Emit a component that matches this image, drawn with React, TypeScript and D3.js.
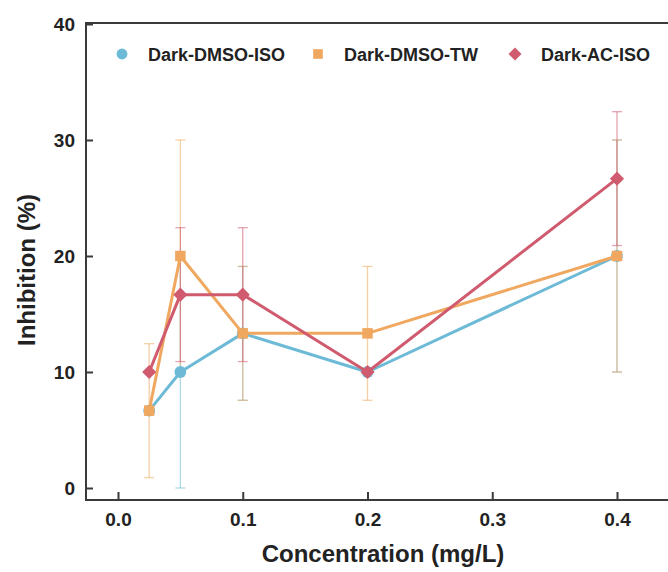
import React, { useRef, useEffect } from 'react';
import * as d3 from 'd3';

const concentrations = [0.025, 0.05, 0.1, 0.2, 0.4];
const seriesNames = ['Dark-DMSO-ISO', 'Dark-DMSO-TW', 'Dark-AC-ISO'];
const dmsoIso = [6.67, 10, 13.33, 10, 20];
const dmsoIsoErr = [0, 10, 5.77, 0, 10];
const dmsoTw = [6.67, 20, 13.33, 13.33, 20];
const dmsoTwErr = [5.77, 10, 5.77, 5.77, 10];
const acIso = [10, 16.67, 16.67, 10, 26.67];
const acIsoErr = [0, 5.77, 5.77, 0, 5.77];
const xTicks = [0, 0.1, 0.2, 0.3, 0.4];
const yTicks = [0, 10, 20, 30, 40];

const colors = ['#6dbad6', '#f0a75f', '#d05a6e'];

const App = () => {
  const ref = useRef<SVGSVGElement>(null);

  useEffect(() => {
    const svg = d3.select(ref.current);
    svg.selectAll('*').remove();

    const x = d3.scaleLinear().domain([0, 0.4]).range([118, 617]);
    const y = d3.scaleLinear().domain([0, 40]).range([488, 24]);
    const left = 86, bottom = 500, top = 23, right = 680;
    const font = 'Liberation Sans, Arial, sans-serif';

    const series = [
      { name: seriesNames[0], vals: dmsoIso, err: dmsoIsoErr, shape: d3.symbolCircle, size: 110, rot: 0 },
      { name: seriesNames[1], vals: dmsoTw, err: dmsoTwErr, shape: d3.symbolSquare, size: 110, rot: 0 },
      { name: seriesNames[2], vals: acIso, err: acIsoErr, shape: d3.symbolSquare, size: 100, rot: 45 },
    ];

    // error bars first
    series.forEach((s, si) => {
      const g = svg.append('g').attr('stroke', colors[si]).attr('stroke-opacity', 0.55).attr('stroke-width', 1.3);
      s.vals.forEach((v, i) => {
        if (!s.err[i]) return;
        const cx = x(concentrations[i]);
        const lo = y(Math.max(0, v - s.err[i]));
        const hi = y(v + s.err[i]);
        g.append('line').attr('x1', cx).attr('x2', cx).attr('y1', lo).attr('y2', hi);
        g.append('line').attr('x1', cx - 5).attr('x2', cx + 5).attr('y1', lo).attr('y2', lo);
        g.append('line').attr('x1', cx - 5).attr('x2', cx + 5).attr('y1', hi).attr('y2', hi);
      });
    });

    const line = d3.line<number>()
      .x((d, i) => x(concentrations[i]))
      .y(d => y(d));

    series.forEach((s, si) => {
      svg.append('path')
        .attr('d', line(s.vals))
        .attr('fill', 'none')
        .attr('stroke', colors[si])
        .attr('stroke-width', 3)
        .attr('stroke-linejoin', 'round');
      svg.append('g')
        .selectAll('path')
        .data(s.vals)
        .join('path')
        .attr('transform', (d, i) => `translate(${x(concentrations[i])},${y(d)}) rotate(${s.rot})`)
        .attr('d', d3.symbol().type(s.shape).size(s.size)())
        .attr('fill', colors[si]);
    });

    // frame
    svg.append('path')
      .attr('d', `M${right},${top}H${left}V${bottom}H${right}`)
      .attr('fill', 'none')
      .attr('stroke', '#3a3a3a')
      .attr('stroke-width', 2);

    const xAxis = svg.append('g')
      .attr('transform', `translate(0,${bottom})`)
      .call(d3.axisBottom(x).tickValues(xTicks).tickFormat(d3.format('.1f')).tickSizeInner(-8).tickSizeOuter(0).tickPadding(13));
    xAxis.select('.domain').remove();
    xAxis.selectAll('line').attr('stroke', '#3a3a3a').attr('stroke-width', 2);
    xAxis.selectAll('text').attr('font-family', font).attr('font-weight', 'bold').attr('font-size', 19).attr('fill', '#222');

    const yAxis = svg.append('g')
      .attr('transform', `translate(${left},0)`)
      .call(d3.axisLeft(y).tickValues(yTicks).tickSizeInner(-7).tickSizeOuter(0).tickPadding(11));
    yAxis.select('.domain').remove();
    yAxis.selectAll('line').attr('stroke', '#3a3a3a').attr('stroke-width', 2);
    yAxis.selectAll('text').attr('font-family', font).attr('font-weight', 'bold').attr('font-size', 19).attr('fill', '#222');

    svg.append('text')
      .attr('x', 383).attr('y', 562)
      .attr('text-anchor', 'middle')
      .attr('font-family', font).attr('font-weight', 'bold').attr('font-size', 24).attr('fill', '#222')
      .text('Concentration (mg/L)');

    svg.append('text')
      .attr('transform', 'translate(35,270) rotate(-90)')
      .attr('text-anchor', 'middle')
      .attr('font-family', font).attr('font-weight', 'bold').attr('font-size', 24).attr('fill', '#222')
      .text('Inhibition (%)');

    // legend
    const legendX = [122, 318, 515];
    series.forEach((s, si) => {
      const g = svg.append('g').attr('transform', `translate(${legendX[si]},54)`);
      g.append('path')
        .attr('transform', `rotate(${s.rot})`)
        .attr('d', d3.symbol().type(s.shape).size(s.size * 0.85)())
        .attr('fill', colors[si]);
      g.append('text')
        .attr('x', 26).attr('y', 7)
        .attr('font-family', font).attr('font-weight', 'bold').attr('font-size', 18).attr('fill', '#222')
        .text(s.name);
    });
  }, []);

  return (
    <svg ref={ref} width={668} height={572} style={{ position: 'absolute', left: 0, top: 0, background: '#fff' }} />
  );
};

export default App;
